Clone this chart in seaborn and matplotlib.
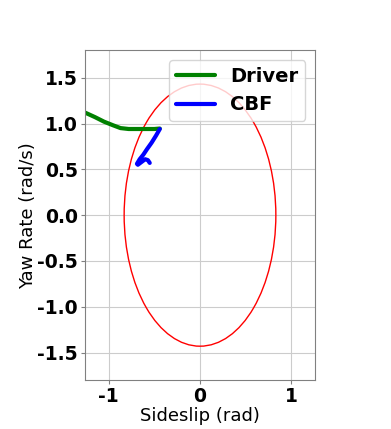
import matplotlib
matplotlib.use("Agg")
import matplotlib.pyplot as plt
from matplotlib.patches import Ellipse
import pandas as pd
import seaborn as sns

# Траектория водителя (sideslip, yaw rate)
driver_beta = [-1.26, -1.15, -1.05, -0.95, -0.87, -0.78, -0.68, -0.58, -0.50, -0.44]
driver_r = [1.12, 1.07, 1.02, 0.98, 0.95, 0.94, 0.94, 0.94, 0.94, 0.945]

# Траектория с CBF
cbf_beta = [-0.44, -0.48, -0.53, -0.58, -0.62, -0.66, -0.69, -0.68, -0.64, -0.60, -0.57, -0.55]
cbf_r = [0.94, 0.87, 0.79, 0.72, 0.66, 0.61, 0.56, 0.55, 0.58, 0.61, 0.60, 0.57]

# Эллипс безопасной области
ellipse_center = (0.0, 0.0)
ellipse_half_width = 0.83
ellipse_half_height = 1.43

sns.set_style("whitegrid", {"axes.edgecolor": "0.5", "xtick.bottom": True, "ytick.left": True,
                            "text.color": "black", "axes.labelcolor": "black",
                            "xtick.color": "black", "ytick.color": "black"})
plt.rcParams["axes.unicode_minus"] = False

fig = plt.figure(figsize=(3.91, 4.29), dpi=100)
ax = fig.add_axes([0.217, 0.114, 0.589, 0.769])

df_driver = pd.DataFrame({"beta": driver_beta, "r": driver_r})
df_cbf = pd.DataFrame({"beta": cbf_beta, "r": cbf_r})

sns.lineplot(data=df_driver, x="beta", y="r", sort=False, color="green", lw=3, label="Driver", ax=ax)
sns.lineplot(data=df_cbf, x="beta", y="r", sort=False, color="blue", lw=3, label="CBF", ax=ax)

ax.add_patch(Ellipse(ellipse_center, 2 * ellipse_half_width, 2 * ellipse_half_height,
                     fill=False, edgecolor="red", lw=1.0))

ax.set_xlim(-1.26, 1.26)
ax.set_ylim(-1.8, 1.8)
ax.set_xticks([-1, 0, 1])
ax.set_yticks([-1.5, -1.0, -0.5, 0.0, 0.5, 1.0, 1.5])
ax.tick_params(axis="both", labelsize=13.5, length=3, width=0.8, color="0.5", pad=2)
for lbl in ax.get_xticklabels() + ax.get_yticklabels():
    lbl.set_fontweight("bold")
ax.set_xlabel("Sideslip (rad)", fontsize=13, labelpad=1)
ax.set_ylabel("Yaw Rate (rad/s)", fontsize=13, labelpad=0)

ax.legend(loc="upper right", prop={"weight": "bold", "size": 14}, frameon=True, borderpad=0.35)

fig.savefig("out.png", dpi=100)
